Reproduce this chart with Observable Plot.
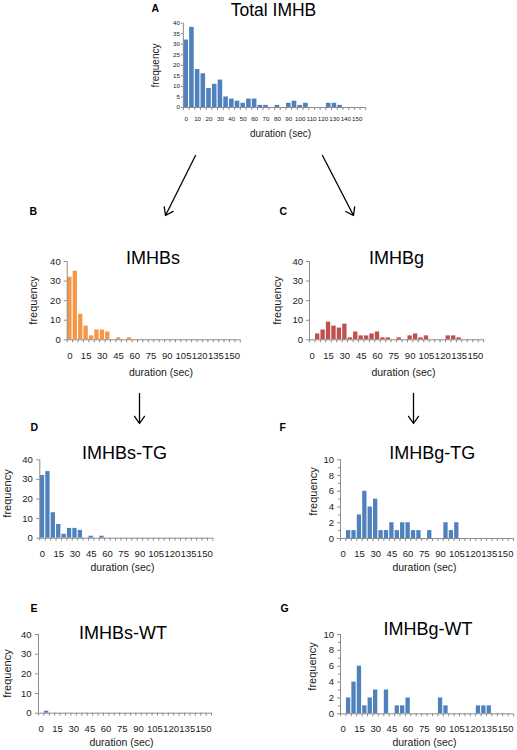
<!DOCTYPE html>
<html><head><meta charset="utf-8">
<script src="https://cdn.jsdelivr.net/npm/d3@7"></script>
<script src="https://cdn.jsdelivr.net/npm/@observablehq/plot@0.6"></script>
<style>
body{margin:0;background:#fff;}
#fig{position:relative;width:517px;height:750px;overflow:hidden;background:#fff;}
#fig svg{position:absolute;overflow:visible;}
</style></head><body><div id="fig"></div>
<script>
// duration bins (sec), 5-second categories
const bins = [0,5,10,15,20,25,30,35,40,45,50,55,60,65,70,75,80,85,90,95,100,105,110,115,120,125,130,135,140,145,150,155];
// frequencies per bin
const totalIMHB = [32,38,18,16,9,11,13,5,4,3,2,4,4,1,1,0,1,0,2,3,1,2,0,0,0,2,2,1,0,0,0,0];
const imhbS     = [32,35,13,7,2,5,5,4,0,1,0,1,0,0,0,0,0,0,0,0,0,0,0,0,0,0,0,0,0,0,0,0];
const imhbG     = [0,3,5,9,7,6,8,1,4,2,2,3,4,1,1,0,1,0,2,3,1,2,0,0,0,2,2,1,0,0,0,0];
const imhbSTG   = [32,34,13,7,2,5,5,4,0,1,0,1,0,0,0,0,0,0,0,0,0,0,0,0,0,0,0,0,0,0,0,0];
const imhbSWT   = [0,1,0,0,0,0,0,0,0,0,0,0,0,0,0,0,0,0,0,0,0,0,0,0,0,0,0,0,0,0,0,0];
const imhbGTG   = [0,1,1,3,6,4,5,1,1,2,1,2,2,1,1,0,1,0,0,2,1,2,0,0,0,0,0,0,0,0,0,0];
const imhbGWT   = [0,2,4,6,1,2,3,0,3,0,1,1,2,0,0,0,0,0,2,1,0,0,0,0,0,1,1,1,0,0,0,0];
// axis tick values
const yTicks40by5 = [0,5,10,15,20,25,30,35,40];
const yTicks40 = [0,10,20,30,40];
const yTicks10 = [0,2,4,6,8,10];
const yMinor10 = [1,3,5,7,9];
const xLabelsA = [0,10,20,30,40,50,60,70,80,90,100,110,120,130,140,150];
const xLabels = [0,15,30,45,60,75,90,105,120,135,150];
// flow arrows between panels (page pixels)
const arrows = [
  {x1:195, y1:155, x2:165, y2:215},
  {x1:322, y1:155, x2:353, y2:215},
  {x1:139, y1:393, x2:139, y2:423},
  {x1:413, y1:393, x2:413, y2:423}
];

const FONT = '"Liberation Sans", Arial, Helvetica, sans-serif';
const AXIS = "#8c8c8c";
const TXT = "#1a1a1a";
const BLUE = "#4f81bd", ORANGE = "#f79646", RED = "#c0504d";

const panels = [
  {values: totalIMHB, color: BLUE, title: "Total IMHB", letter: "A",
   box: {left:135, top:0, width:250, height:142},
   frame: {l:182.85, r:365.25, t:22.7, b:107},
   yMax: 40, yTicks: yTicks40by5, yMinor: [], xLabels: xLabelsA,
   tickFont: 6.2, yPad: 1.5, ySize: 2, labelFont: 10, freqFont: 10, titleFont: 17.5,
   titleX: 273, titleY: 15, letterX: 151, letterY: 8.5,
   freqX: 155, freqY: 65, tickY: 119, durX: 280, durY: 133},
  {values: imhbS, color: ORANGE, title: "IMHBs", letter: "B",
   box: {left:0, top:195, width:255, height:190},
   frame: {l:66.7, r:239.8, t:261, b:339.3},
   yMax: 40, yTicks: yTicks40, yMinor: [], xLabels: xLabels,
   tickFont: 9.5, yPad: 3.5, ySize: 3, labelFont: 10.5, freqFont: 11, titleFont: 18,
   titleX: 152.5, titleY: 263.3, letterX: 29, letterY: 211.5,
   freqX: 33, freqY: 300, tickY: 355.5, durX: 160.5, durY: 372},
  {values: imhbG, color: RED, title: "IMHBg", letter: "C",
   box: {left:255, top:195, width:262, height:190},
   frame: {l:309, r:483.1, t:261, b:339.3},
   yMax: 40, yTicks: yTicks40, yMinor: [], xLabels: xLabels,
   tickFont: 9.5, yPad: 3.5, ySize: 3, labelFont: 10.5, freqFont: 11, titleFont: 18,
   titleX: 396, titleY: 263.3, letterX: 279, letterY: 211.5,
   freqX: 277, freqY: 300, tickY: 355.5, durX: 403, durY: 372},
  {values: imhbSTG, color: BLUE, title: "IMHBs-TG", letter: "D",
   box: {left:0, top:415, width:255, height:160},
   frame: {l:39.3, r:212.4, t:459.3, b:537.7},
   yMax: 40, yTicks: yTicks40, yMinor: [], xLabels: xLabels,
   tickFont: 9.5, yPad: 4, ySize: 3, labelFont: 10.5, freqFont: 11, titleFont: 18,
   titleX: 124, titleY: 458.3, letterX: 30, letterY: 427,
   freqX: 7, freqY: 493, tickY: 553.5, durX: 122, durY: 567},
  {values: imhbGTG, color: BLUE, title: "IMHBg-TG", letter: "F",
   box: {left:255, top:415, width:262, height:160},
   frame: {l:340, r:513.1, t:459.3, b:538},
   yMax: 10, yTicks: yTicks10, yMinor: yMinor10, xLabels: xLabels,
   tickFont: 9.5, yPad: 3.5, ySize: 3, labelFont: 10.5, freqFont: 11, titleFont: 18,
   titleX: 431.7, titleY: 458.3, letterX: 279, letterY: 427,
   freqX: 313, freqY: 491, tickY: 553.5, durX: 424, durY: 567},
  {values: imhbSWT, color: BLUE, title: "IMHBs-WT", letter: "E",
   box: {left:0, top:595, width:255, height:155},
   frame: {l:38, r:211.1, t:634, b:712.7},
   yMax: 40, yTicks: yTicks40, yMinor: [], xLabels: xLabels,
   tickFont: 9.5, yPad: 4, ySize: 3, labelFont: 10.5, freqFont: 11, titleFont: 18,
   titleX: 122.5, titleY: 638.5, letterX: 30, letterY: 608,
   freqX: 7, freqY: 673, tickY: 728, durX: 121, durY: 742},
  {values: imhbGWT, color: BLUE, title: "IMHBg-WT", letter: "G",
   box: {left:255, top:595, width:262, height:155},
   frame: {l:340, r:513.1, t:634, b:713.3},
   yMax: 10, yTicks: yTicks10, yMinor: yMinor10, xLabels: xLabels,
   tickFont: 9.5, yPad: 3.5, ySize: 3, labelFont: 10.5, freqFont: 11, titleFont: 18,
   titleX: 427.5, titleY: 634, letterX: 280, letterY: 608,
   freqX: 312, freqY: 666, tickY: 728, durX: 424, durY: 742}
];

const fig = document.getElementById("fig");

function makePanel(c) {
  const f = c.frame, b = c.box;
  const data = bins.map((bin, i) => ({bin, count: c.values[i]}));
  const frameCx = (f.l + f.r) / 2;
  const chart = Plot.plot({
    width: b.width, height: b.height,
    marginLeft: f.l - b.left, marginRight: b.left + b.width - f.r,
    marginTop: f.t - b.top, marginBottom: b.top + b.height - f.b,
    x: {type: "linear", domain: [0, 160], axis: null},
    y: {type: "linear", domain: [0, c.yMax], axis: null},
    style: {fontFamily: FONT, fontSize: c.tickFont + "px", color: TXT, background: "transparent", overflow: "visible"},
    marks: [
      Plot.rectY(data, {x1: "bin", x2: d => d.bin + 5, y: "count", fill: c.color, insetLeft: 0.55, insetRight: 0.55}),
      Plot.axisX({ticks: bins.concat([160]), tickSize: 3, tickFormat: () => "", stroke: AXIS, label: null}),
      Plot.axisY({ticks: c.yTicks, tickSize: c.ySize, tickPadding: c.yPad, stroke: AXIS, fill: TXT, fontSize: c.tickFont, label: null}),
      Plot.axisY({ticks: c.yMinor, tickSize: 2, tickFormat: () => "", stroke: AXIS, label: null}),
      Plot.ruleY([0], {stroke: AXIS}),
      Plot.ruleX([0], {stroke: AXIS}),
      Plot.text(c.xLabels, {x: d => d + 2.5, text: d => String(d), frameAnchor: "bottom", dy: c.tickY - f.b,
        lineAnchor: "middle", textAnchor: "middle", fontSize: c.tickFont, fill: TXT}),
      Plot.text(["duration (sec)"], {frameAnchor: "bottom", dx: c.durX - frameCx, dy: c.durY - f.b,
        lineAnchor: "middle", textAnchor: "middle", fontSize: c.labelFont, fill: TXT}),
      Plot.text(["frequency"], {frameAnchor: "top-left", dx: c.freqX - f.l, dy: c.freqY - f.t, rotate: -90,
        lineAnchor: "middle", textAnchor: "middle", fontSize: c.freqFont, fill: TXT}),
      Plot.text([c.title], {frameAnchor: "top-left", dx: c.titleX - f.l, dy: c.titleY - f.t,
        lineAnchor: "bottom", textAnchor: "middle", fontSize: c.titleFont, fill: "#000"}),
      Plot.text([c.letter], {frameAnchor: "top-left", dx: c.letterX - f.l, dy: c.letterY - f.t,
        lineAnchor: "middle", textAnchor: "start", fontSize: 10.5, fontWeight: "bold", fill: "#000"})
    ]
  });
  chart.style.left = b.left + "px";
  chart.style.top = b.top + "px";
  fig.appendChild(chart);
}

panels.forEach(makePanel);

const overlay = Plot.plot({
  width: 517, height: 750, margin: 0,
  x: {type: "identity", axis: null},
  y: {type: "identity", axis: null},
  style: {background: "transparent", overflow: "visible"},
  marks: [
    Plot.arrow(arrows, {x1: "x1", y1: "y1", x2: "x2", y2: "y2", stroke: "#000", strokeWidth: 1.3, headLength: 10, headAngle: 70})
  ]
});
overlay.style.left = "0px";
overlay.style.top = "0px";
overlay.style.pointerEvents = "none";
fig.appendChild(overlay);
</script></body></html>
